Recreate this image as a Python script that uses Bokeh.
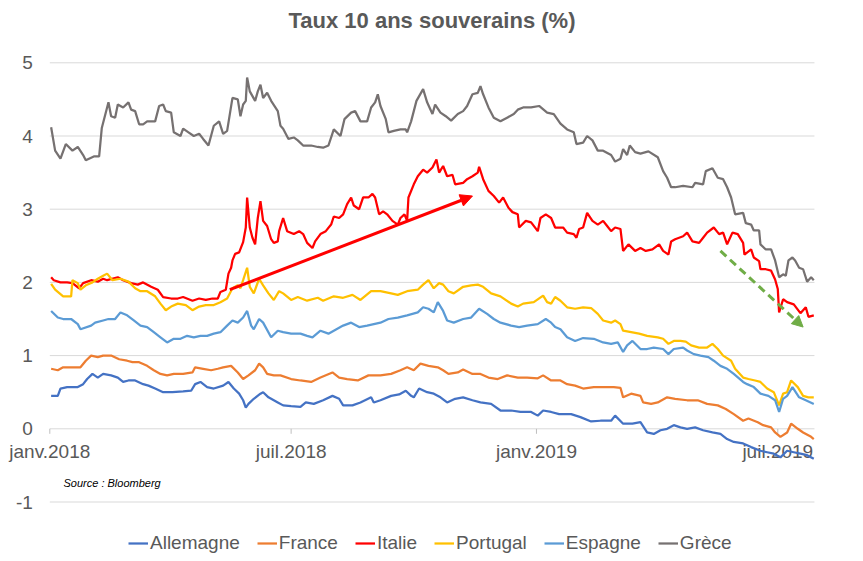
import pandas as pd
from math import pi
from bokeh.plotting import figure
from bokeh.models import Range1d, Legend, LegendItem, Arrow, NormalHead
from bokeh.core.properties import value
from bokeh.embed import file_html
from bokeh.resources import INLINE

START = pd.Timestamp("2018-01-01")
GRID_END = pd.Timestamp("2019-07-28 12:00")

# ---- data: day offsets from 2018-01-01 and 10y yields (%) ----
allemagne_days = [1, 6, 8, 13, 21, 25, 28, 32, 36, 40, 46, 51, 55, 59, 64, 70, 74, 79, 85, 92, 100, 106, 109, 113, 118, 123, 130, 134, 138, 142, 145, 147, 149, 153, 158, 160, 164, 171, 175, 181, 188, 192, 198, 205, 212, 217, 220, 227, 233, 241, 243, 248, 256, 262, 267, 271, 273, 277, 283, 288, 293, 298, 304, 310, 317, 323, 331, 338, 346, 353, 361, 366, 370, 376, 382, 391, 398, 406, 413, 421, 424, 430, 437, 443, 448, 453, 458, 463, 468, 473, 478, 484, 490, 497, 503, 508, 513, 520, 526, 533, 538, 543, 548, 553, 558, 563, 568, 573]
allemagne_vals = [0.45, 0.45, 0.55, 0.57, 0.57, 0.61, 0.68, 0.75, 0.70, 0.75, 0.73, 0.70, 0.64, 0.66, 0.66, 0.61, 0.59, 0.55, 0.50, 0.50, 0.51, 0.52, 0.61, 0.64, 0.57, 0.55, 0.59, 0.64, 0.55, 0.48, 0.39, 0.29, 0.34, 0.41, 0.48, 0.50, 0.43, 0.36, 0.32, 0.31, 0.30, 0.36, 0.34, 0.39, 0.45, 0.41, 0.32, 0.32, 0.36, 0.43, 0.36, 0.39, 0.45, 0.47, 0.52, 0.45, 0.43, 0.55, 0.50, 0.48, 0.43, 0.36, 0.41, 0.43, 0.39, 0.36, 0.34, 0.25, 0.25, 0.23, 0.23, 0.18, 0.25, 0.23, 0.20, 0.20, 0.16, 0.10, 0.11, 0.11, 0.18, 0.07, 0.07, 0.09, -0.05, -0.07, -0.02, 0.00, 0.05, 0.02, 0.00, 0.02, -0.02, -0.05, -0.07, -0.14, -0.18, -0.20, -0.25, -0.30, -0.32, -0.34, -0.39, -0.30, -0.32, -0.34, -0.36, -0.41]

france_days = [1, 6, 10, 18, 23, 27, 31, 36, 40, 46, 52, 58, 62, 67, 73, 78, 83, 88, 93, 100, 107, 109, 115, 121, 126, 130, 136, 141, 145, 149, 154, 157, 160, 163, 168, 173, 181, 188, 196, 203, 212, 217, 223, 231, 239, 248, 256, 263, 268, 273, 278, 284, 291, 295, 299, 306, 310, 317, 323, 329, 336, 343, 351, 358, 366, 370, 376, 383, 388, 394, 400, 408, 415, 423, 428, 430, 436, 443, 445, 451, 456, 463, 469, 478, 486, 493, 501, 507, 513, 520, 524, 531, 535, 541, 544, 548, 553, 556, 561, 565, 571, 573]
france_vals = [0.82, 0.80, 0.84, 0.84, 0.84, 0.93, 1.00, 0.98, 1.00, 1.00, 0.95, 0.93, 0.91, 0.91, 0.86, 0.80, 0.75, 0.73, 0.75, 0.75, 0.77, 0.84, 0.82, 0.80, 0.82, 0.84, 0.86, 0.77, 0.68, 0.73, 0.80, 0.89, 0.84, 0.75, 0.73, 0.73, 0.68, 0.66, 0.64, 0.70, 0.77, 0.70, 0.68, 0.66, 0.73, 0.73, 0.75, 0.80, 0.84, 0.80, 0.89, 0.86, 0.84, 0.80, 0.75, 0.77, 0.81, 0.75, 0.75, 0.70, 0.68, 0.73, 0.70, 0.70, 0.69, 0.73, 0.66, 0.66, 0.61, 0.59, 0.55, 0.57, 0.57, 0.57, 0.56, 0.43, 0.48, 0.45, 0.36, 0.34, 0.36, 0.43, 0.41, 0.39, 0.39, 0.34, 0.32, 0.27, 0.20, 0.11, 0.14, 0.09, 0.05, 0.02, -0.05, -0.11, -0.05, 0.07, 0.00, -0.05, -0.11, -0.14]

italie_days = [1, 3, 8, 13, 17, 22, 25, 31, 36, 40, 43, 51, 55, 61, 66, 70, 76, 81, 85, 91, 96, 100, 107, 112, 117, 122, 126, 128, 132, 134, 136, 137, 139, 142, 145, 147, 148, 150, 152, 154, 156, 158, 160, 163, 166, 168, 171, 172, 175, 178, 183, 187, 190, 193, 197, 199, 203, 207, 211, 213, 217, 220, 223, 226, 228, 232, 235, 239, 242, 244, 247, 250, 253, 257, 261, 263, 266, 268, 269, 273, 276, 280, 283, 287, 290, 292, 295, 298, 302, 304, 310, 313, 317, 321, 322, 325, 329, 333, 337, 340, 344, 347, 351, 352, 357, 361, 366, 368, 372, 376, 379, 385, 388, 393, 395, 397, 400, 403, 407, 411, 415, 418, 421, 424, 428, 430, 434, 439, 443, 447, 452, 457, 460, 464, 466, 469, 475, 478, 482, 487, 490, 493, 498, 502, 505, 508, 512, 516, 520, 521, 526, 528, 532, 533, 537, 541, 544, 546, 547, 550, 553, 558, 563, 567, 569, 573]
italie_vals = [2.07, 2.03, 2.00, 2.00, 1.99, 1.92, 1.99, 2.03, 2.01, 2.05, 2.03, 2.07, 2.03, 1.99, 1.97, 2.00, 1.94, 1.90, 1.80, 1.78, 1.78, 1.80, 1.75, 1.78, 1.76, 1.78, 1.78, 1.87, 1.90, 2.12, 2.20, 2.30, 2.39, 2.41, 2.55, 2.75, 3.16, 2.75, 2.61, 2.52, 2.88, 3.11, 2.84, 2.77, 2.59, 2.54, 2.56, 2.70, 2.88, 2.70, 2.66, 2.70, 2.66, 2.54, 2.47, 2.56, 2.66, 2.70, 2.79, 2.90, 2.88, 2.93, 3.07, 3.16, 3.05, 3.00, 3.16, 3.16, 3.21, 3.16, 2.93, 2.97, 2.93, 2.84, 2.79, 2.88, 2.93, 2.84, 3.16, 3.34, 3.45, 3.54, 3.50, 3.57, 3.68, 3.50, 3.59, 3.45, 3.47, 3.34, 3.36, 3.41, 3.45, 3.50, 3.58, 3.41, 3.25, 3.18, 3.09, 3.16, 3.02, 2.96, 2.93, 2.75, 2.84, 2.82, 2.70, 2.88, 2.93, 2.88, 2.75, 2.75, 2.68, 2.66, 2.61, 2.73, 2.75, 2.95, 2.84, 2.79, 2.84, 2.77, 2.70, 2.75, 2.73, 2.43, 2.52, 2.43, 2.47, 2.43, 2.45, 2.52, 2.43, 2.38, 2.56, 2.59, 2.63, 2.68, 2.56, 2.54, 2.61, 2.68, 2.75, 2.66, 2.68, 2.52, 2.68, 2.66, 2.54, 2.38, 2.45, 2.34, 2.29, 2.18, 2.18, 2.16, 2.04, 1.91, 1.59, 1.77, 1.73, 1.70, 1.58, 1.66, 1.53, 1.55]

portugal_days = [1, 4, 10, 16, 17, 21, 23, 27, 32, 36, 40, 43, 47, 53, 59, 64, 68, 73, 79, 83, 87, 91, 96, 102, 107, 112, 117, 123, 128, 133, 137, 141, 143, 145, 148, 150, 153, 157, 160, 164, 168, 172, 175, 181, 186, 193, 201, 205, 213, 220, 227, 233, 241, 248, 256, 261, 268, 276, 280, 284, 288, 292, 295, 299, 303, 310, 316, 321, 325, 331, 338, 346, 351, 355, 363, 370, 373, 376, 379, 383, 388, 394, 400, 406, 411, 415, 421, 424, 428, 430, 436, 442, 448, 456, 460, 464, 468, 473, 477, 481, 487, 493, 497, 501, 505, 511, 514, 520, 524, 529, 533, 538, 543, 547, 550, 553, 556, 561, 565, 569, 573]
portugal_vals = [1.98, 1.90, 1.81, 1.81, 2.03, 1.99, 1.90, 1.96, 2.00, 2.05, 2.09, 2.12, 2.03, 2.05, 2.01, 1.92, 1.88, 1.88, 1.81, 1.71, 1.62, 1.67, 1.71, 1.69, 1.62, 1.67, 1.69, 1.69, 1.73, 1.78, 1.92, 1.96, 1.92, 2.03, 2.20, 1.94, 1.85, 2.05, 1.96, 1.85, 1.76, 1.88, 1.85, 1.76, 1.80, 1.75, 1.79, 1.75, 1.81, 1.79, 1.83, 1.76, 1.88, 1.88, 1.85, 1.83, 1.88, 1.90, 1.97, 2.03, 1.92, 1.99, 1.97, 1.88, 1.85, 1.94, 1.96, 1.97, 1.94, 1.85, 1.81, 1.71, 1.67, 1.71, 1.73, 1.82, 1.73, 1.71, 1.80, 1.75, 1.66, 1.64, 1.66, 1.65, 1.57, 1.48, 1.45, 1.48, 1.43, 1.34, 1.32, 1.30, 1.27, 1.25, 1.23, 1.16, 1.20, 1.20, 1.19, 1.14, 1.11, 1.11, 1.16, 1.09, 1.00, 0.93, 0.82, 0.70, 0.68, 0.66, 0.64, 0.55, 0.50, 0.32, 0.48, 0.50, 0.66, 0.57, 0.45, 0.43, 0.43]

espagne_days = [1, 6, 10, 16, 21, 23, 31, 34, 40, 44, 49, 53, 58, 63, 68, 73, 78, 83, 88, 93, 98, 103, 108, 113, 118, 123, 128, 133, 137, 141, 145, 148, 151, 153, 157, 160, 166, 171, 175, 181, 188, 193, 197, 203, 209, 213, 220, 226, 232, 238, 243, 248, 254, 261, 268, 276, 280, 284, 288, 291, 295, 298, 303, 310, 316, 322, 328, 333, 338, 346, 352, 358, 366, 372, 376, 379, 383, 388, 394, 400, 408, 415, 421, 426, 430, 433, 437, 443, 448, 453, 460, 464, 468, 475, 478, 483, 488, 494, 498, 503, 508, 513, 520, 523, 528, 533, 539, 544, 547, 550, 553, 557, 562, 567, 573]
espagne_vals = [1.61, 1.52, 1.50, 1.50, 1.43, 1.36, 1.41, 1.45, 1.48, 1.50, 1.50, 1.59, 1.55, 1.48, 1.41, 1.39, 1.32, 1.25, 1.18, 1.23, 1.23, 1.27, 1.25, 1.27, 1.27, 1.30, 1.32, 1.41, 1.48, 1.45, 1.52, 1.61, 1.41, 1.36, 1.50, 1.45, 1.25, 1.34, 1.32, 1.30, 1.30, 1.27, 1.25, 1.34, 1.30, 1.34, 1.41, 1.45, 1.39, 1.41, 1.43, 1.45, 1.50, 1.52, 1.55, 1.59, 1.66, 1.64, 1.59, 1.73, 1.61, 1.48, 1.45, 1.50, 1.52, 1.64, 1.57, 1.50, 1.45, 1.41, 1.39, 1.41, 1.43, 1.50, 1.45, 1.39, 1.36, 1.25, 1.20, 1.24, 1.23, 1.18, 1.16, 1.18, 1.05, 1.14, 1.20, 1.09, 1.09, 1.11, 1.09, 1.02, 1.09, 1.11, 1.07, 1.02, 1.00, 0.98, 0.93, 0.86, 0.82, 0.75, 0.64, 0.61, 0.57, 0.48, 0.45, 0.39, 0.23, 0.41, 0.45, 0.57, 0.43, 0.39, 0.34]

grece_days = [1, 4, 8, 12, 17, 21, 25, 27, 33, 37, 39, 44, 46, 49, 51, 55, 59, 61, 64, 67, 70, 73, 79, 82, 85, 87, 91, 93, 98, 100, 104, 108, 112, 115, 119, 123, 127, 130, 133, 137, 141, 143, 145, 147, 148, 150, 154, 156, 158, 160, 163, 166, 171, 173, 175, 179, 183, 186, 190, 196, 201, 205, 209, 213, 218, 221, 226, 229, 233, 238, 241, 244, 246, 248, 252, 254, 258, 263, 267, 268, 271, 275, 280, 283, 287, 289, 293, 297, 301, 306, 310, 313, 317, 321, 323, 325, 329, 333, 338, 343, 348, 351, 355, 361, 367, 373, 378, 383, 388, 393, 395, 400, 403, 407, 411, 415, 421, 424, 428, 430, 433, 435, 439, 443, 449, 456, 460, 463, 466, 469, 475, 482, 484, 490, 492, 497, 501, 505, 508, 511, 514, 520, 522, 526, 528, 532, 533, 537, 541, 544, 547, 550, 552, 554, 557, 559, 562, 565, 568, 571, 573]
grece_vals = [4.12, 3.80, 3.69, 3.89, 3.80, 3.85, 3.74, 3.67, 3.72, 3.72, 4.11, 4.46, 4.27, 4.25, 4.43, 4.39, 4.46, 4.36, 4.34, 4.16, 4.16, 4.20, 4.20, 4.41, 4.43, 4.34, 4.32, 4.05, 4.00, 4.10, 4.05, 4.00, 4.03, 3.96, 3.87, 4.14, 4.20, 4.03, 4.07, 4.52, 4.50, 4.27, 4.43, 4.48, 4.80, 4.61, 4.48, 4.61, 4.70, 4.52, 4.59, 4.48, 4.34, 4.14, 4.10, 3.96, 3.98, 3.94, 3.87, 3.87, 3.85, 3.84, 3.87, 4.09, 4.00, 4.23, 4.32, 4.34, 4.20, 4.20, 4.39, 4.46, 4.57, 4.41, 4.23, 4.05, 4.07, 4.09, 4.09, 4.05, 4.20, 4.48, 4.64, 4.46, 4.30, 4.43, 4.32, 4.27, 4.21, 4.30, 4.34, 4.41, 4.57, 4.59, 4.68, 4.57, 4.39, 4.25, 4.20, 4.25, 4.30, 4.36, 4.39, 4.39, 4.41, 4.32, 4.30, 4.17, 4.09, 4.05, 3.89, 3.91, 4.00, 3.94, 3.80, 3.80, 3.74, 3.65, 3.69, 3.82, 3.74, 3.87, 3.78, 3.76, 3.79, 3.71, 3.52, 3.43, 3.30, 3.30, 3.32, 3.30, 3.36, 3.34, 3.52, 3.56, 3.43, 3.41, 3.30, 3.16, 2.93, 2.95, 2.81, 2.79, 2.71, 2.71, 2.52, 2.45, 2.45, 2.30, 2.07, 2.11, 2.09, 2.30, 2.34, 2.30, 2.20, 2.18, 2.01, 2.07, 2.03]

series_names = ["Allemagne", "France", "Italie", "Portugal", "Espagne", "Grèce"]
series_colors = ["#4472C4", "#ED7D31", "#FF0000", "#FFC000", "#5B9BD5", "#767171"]

tick_labels = ["janv.2018", "juil.2018", "janv.2019", "juil.2019"]
tick_dates = ["2018-01-01", "2018-07-01", "2019-01-01", "2019-07-01"]
y_ticks = [-1, 0, 1, 2, 3, 4, 5]
y_tick_labels = ["-1", "0", "1", "2", "3", "4", "5"]

# trend arrows (date, value)
red_arrow = [("2018-05-16", 1.90), ("2018-11-14", 3.18)]
green_arrow = [("2019-05-19", 2.43), ("2019-07-20", 1.39)]

TITLE = "Taux 10 ans souverains (%)"
SOURCE = "Source : Bloomberg"

# ---- layout (pixels) ----
W, H = 863, 561
X0_PX = 49.3          # pixel of 2018-01-01
PX_PER_DAY = 1.3333
Y0_PX = 428.3         # pixel of value 0
PX_PER_UNIT = 73.2
FONT = "Liberation Sans"
GREY = "#595959"


def to_dates(days):
    return START + pd.to_timedelta(days, unit="D")


def ms(d):
    return pd.Timestamp(d).value / 1e6


def px_x(px):
    return ms(START + pd.Timedelta(days=(px - X0_PX) / PX_PER_DAY))


def px_y(py):
    return (Y0_PX - py) / PX_PER_UNIT


p = figure(width=W, height=H, x_axis_location=None, y_axis_location=None,
           x_range=Range1d(px_x(0), px_x(W)), y_range=Range1d(px_y(H), px_y(0)),
           output_backend="svg", toolbar_location=None, min_border=0)
p.outline_line_color = None
p.background_fill_color = "white"
p.border_fill_color = "white"
for g in list(p.xgrid) + list(p.ygrid):
    g.visible = False

# horizontal gridlines
n = len(y_ticks)
p.segment(x0=[ms(START)] * n, x1=[ms(GRID_END)] * n, y0=y_ticks, y1=y_ticks,
          line_color="#D9D9D9", line_width=1)

# y tick labels
p.text(x=[ms(START)] * n, y=y_ticks, text=y_tick_labels, x_offset=-17,
       text_align="right", text_baseline="middle", text_font=value(FONT),
       text_font_size=value("19px"), text_color=GREY)

# x tick marks and labels under the zero line
tms = [ms(d) for d in tick_dates]
p.ray(x=tms, y=[0] * len(tms), length=5, length_units="screen", angle=-pi / 2,
      line_color="#BFBFBF", line_width=1)
p.text(x=tms, y=[0] * len(tms), text=tick_labels, text_align="center",
       text_baseline="top", y_offset=12, text_font=value(FONT),
       text_font_size=value("19px"), text_color=GREY)

# title and source
p.text(x=[px_x(431.5)], y=[px_y(20)], text=[TITLE], text_align="center",
       text_baseline="middle", text_font=value(FONT), text_font_size=value("22px"),
       text_font_style="bold", text_color=GREY)
p.text(x=[px_x(63)], y=[px_y(482)], text=[SOURCE], text_align="left",
       text_baseline="middle", text_font=value(FONT), text_font_size=value("11px"),
       text_font_style="italic", text_color="#000000")

all_days = [allemagne_days, france_days, italie_days, portugal_days, espagne_days, grece_days]
all_vals = [allemagne_vals, france_vals, italie_vals, portugal_vals, espagne_vals, grece_vals]

items = []
for name, days, vals, color in zip(series_names, all_days, all_vals, series_colors):
    xs = [ms(d) for d in to_dates(days)]
    r = p.line(xs, vals, line_color=color, line_width=2.25)
    items.append(LegendItem(label=name, renderers=[r]))

p.add_layout(Arrow(end=NormalHead(size=12, fill_color="#FF0000", line_color="#FF0000"),
                   x_start=ms(red_arrow[0][0]), y_start=red_arrow[0][1],
                   x_end=ms(red_arrow[1][0]), y_end=red_arrow[1][1],
                   line_color="#FF0000", line_width=3))
p.add_layout(Arrow(end=NormalHead(size=11, fill_color="#70AD47", line_color="#70AD47"),
                   x_start=ms(green_arrow[0][0]), y_start=green_arrow[0][1],
                   x_end=ms(green_arrow[1][0]), y_end=green_arrow[1][1],
                   line_color="#70AD47", line_width=3, line_dash="8 5"))

legend = Legend(items=items, orientation="horizontal", location=(128, 7),
                label_text_font=FONT, label_text_font_size="19px", label_text_color=GREY,
                glyph_width=20, glyph_height=20, label_standoff=2, spacing=17,
                padding=0, margin=0, border_line_color=None, background_fill_alpha=0)
p.add_layout(legend)

open("out.html", "w").write(file_html(p, INLINE))
